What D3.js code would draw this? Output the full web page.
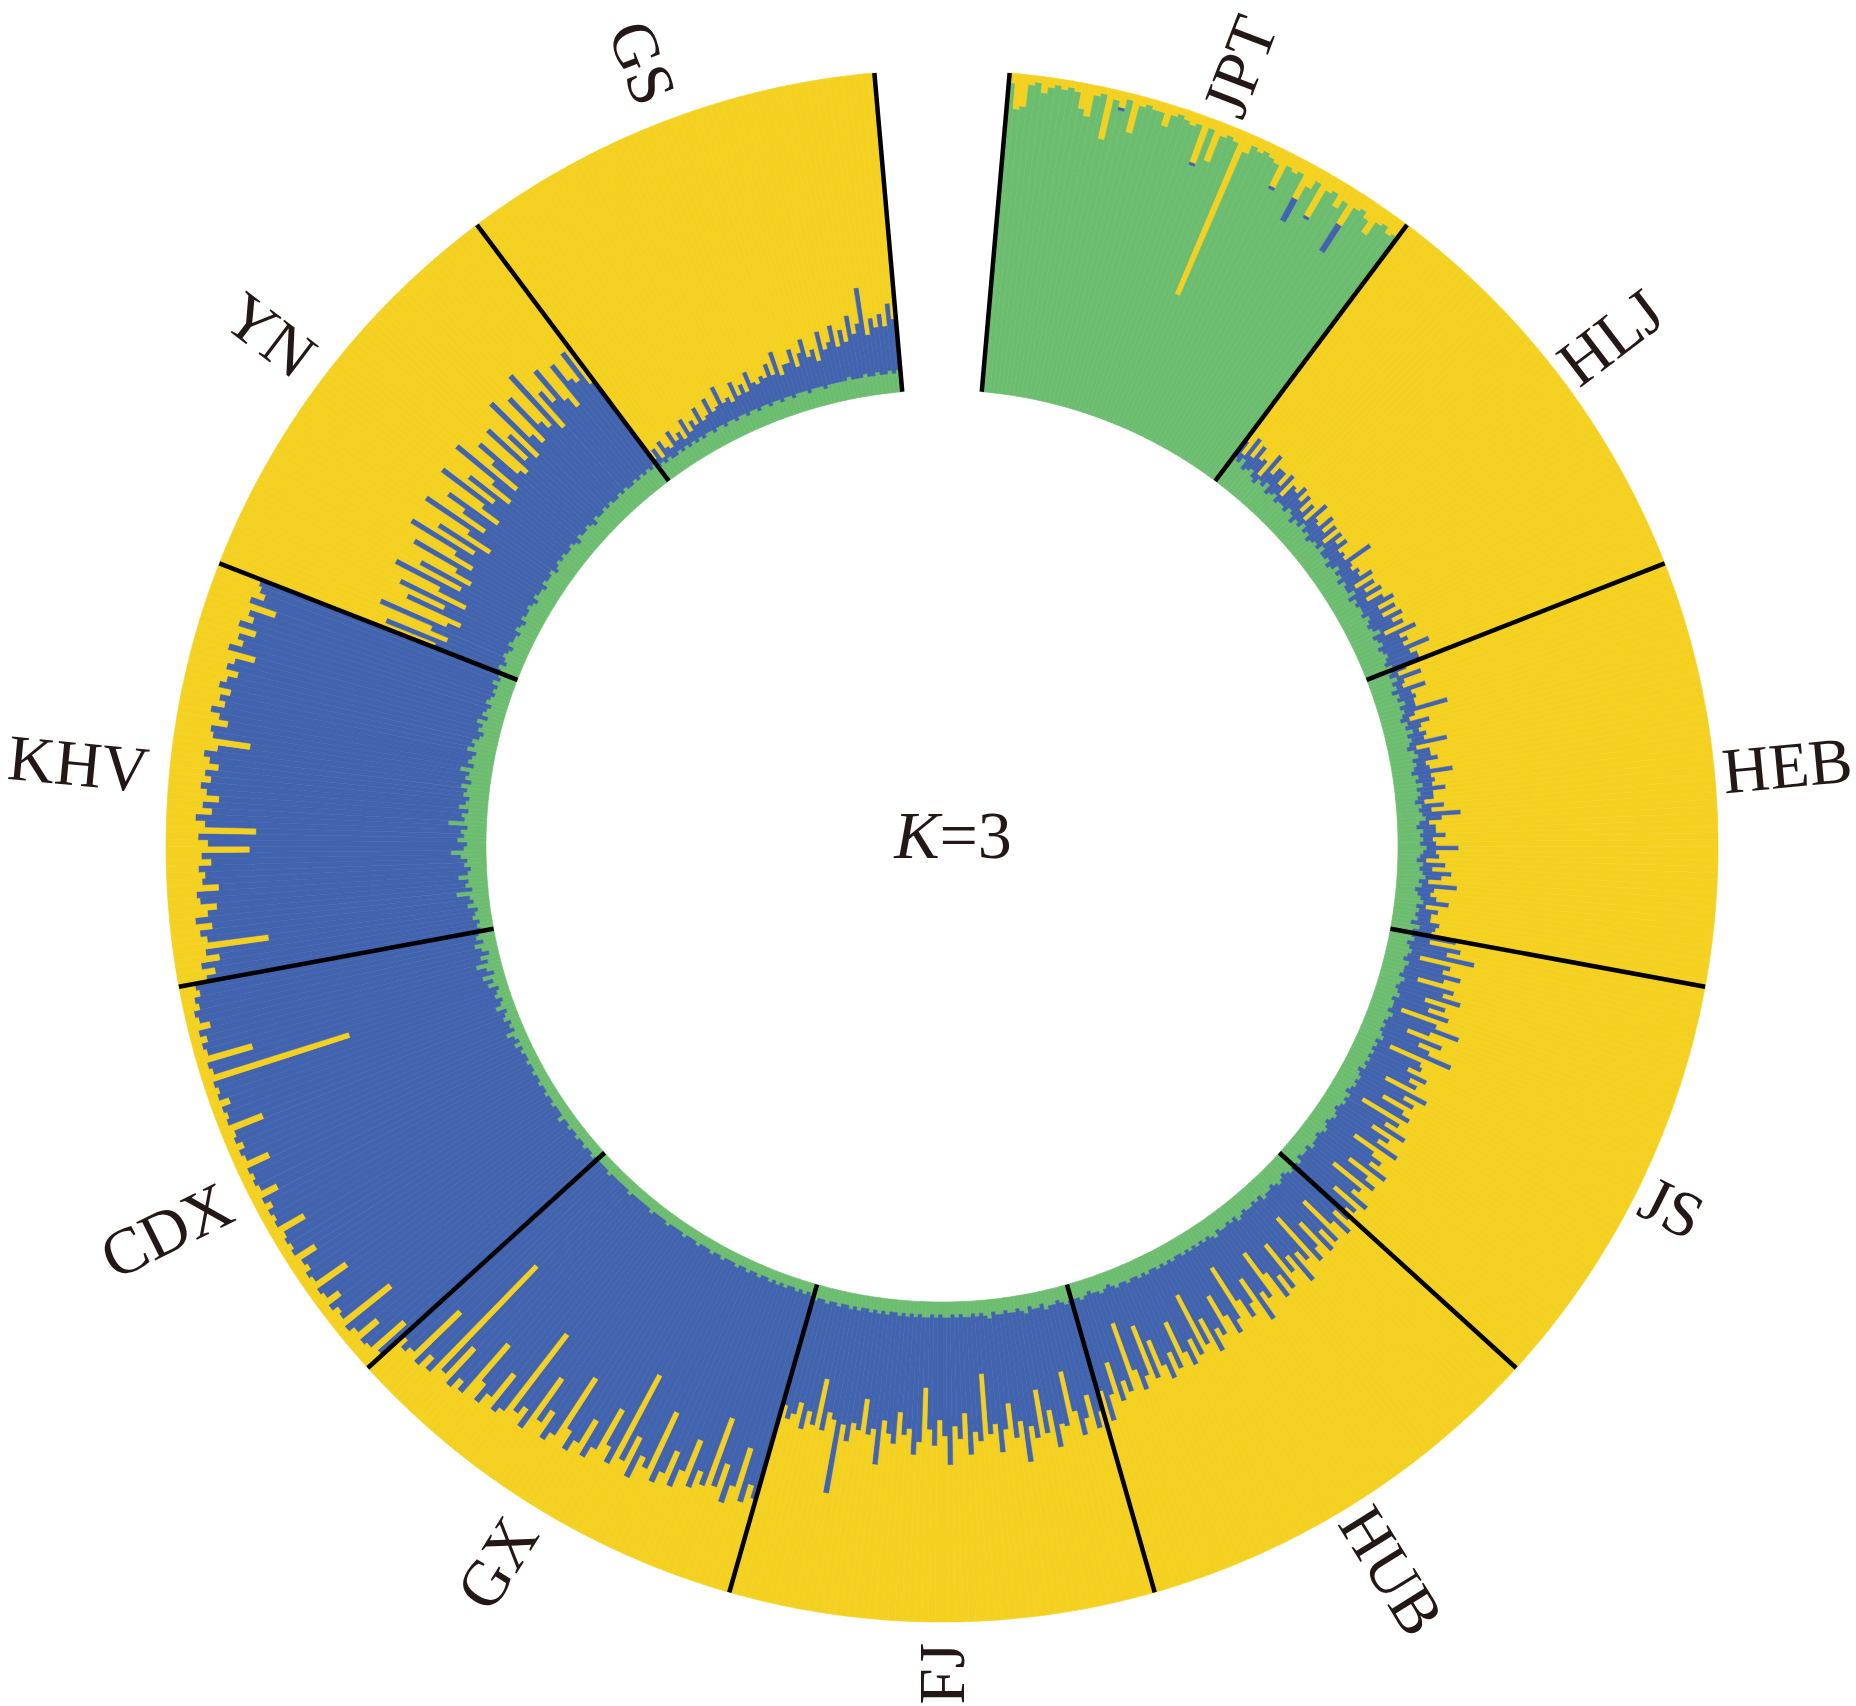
<!DOCTYPE html>
<html lang="en">
<head>
  <meta charset="UTF-8" />
  <title>Circular admixture plot, K=3</title>
  <script src="https://d3js.org/d3.v7.min.js"></script>
  <style>
    body { margin: 0; background: #fff; }
    .pop-label, .k-label {
      font-family: "Liberation Serif", "Times New Roman", serif;
      fill: #231815;
    }
    .pop-label { font-size: 65px; }
    .k-label { font-size: 68px; }
    .divider { stroke: #000; stroke-width: 4.5px; }
  </style>
</head>
<body>
<script>
  // populations, clockwise from the gap at 12 o'clock
  const populations = ["JPT", "HLJ", "HEB", "JS", "HUB", "FJ", "GX", "CDX", "KHV", "YN", "GS"];

  // ancestry shares per individual (%): green = inner cluster, blue = middle,
  // yellow = whatever is left (outer)
  const jptGreen = [97,89,90,97,98,95,97,98,97,98,97,92,90,97,98,84,
                    97,94,98,88,97,98,97,97,93,97,98,97,96,97,84,97,
                    87,96,97,96,45,94,97,96,97,96,95,87,96,95,96,80,
                    93,96,84,95,96,92,95,78,95,96,94,90,95,96,94,95];
  const jptBlue  = [0,0,0,0,0,0,0,0,0,0,0,0,0,0,0,0,
                    0,1,0,0,0,0,0,0,0,0,0,0,0,0,1,0,
                    0,0,0,0,0,0,0,0,0,0,0,1,0,0,0,8,
                    0,0,1,0,0,0,0,10,0,0,0,0,0,0,0,0];

  const hljGreen = [10,9,11,8,9,10,8,7,9,8,10,7,8,9,7,8,
                    8,7,9,8,6,8,7,9,7,8,6,7,8,7,9,7,
                    7,8,6,7,9,7,8,6,8,7,7,9,6,8,7,8,
                    8,7,9,8,7,8,10,7,8,9,7,8,9,8,7,9];
  const hljBlue  = [6,3,8,5,9,4,7,3,10,5,6,9,4,8,3,7,
                    6,10,4,8,5,7,3,9,6,4,11,5,8,3,7,6,
                    9,4,7,5,12,6,4,8,5,10,3,7,6,9,4,8,
                    11,6,9,5,12,7,8,4,13,6,10,7,14,8,11,9];

  const hebGreen = [8,7,9,7,8,6,8,7,9,7,8,7,6,8,7,9,
                    7,8,7,6,8,9,7,8,7,6,8,7,9,7,8,7,
                    6,8,7,8,9,7,6,8,7,8,7,9,8,7,6,8,
                    7,8,9,7,8,6,7,8,9,7,8,7,8,6,9,7];
  const hebBlue  = [5,3,8,4,2,11,4,6,3,5,14,4,3,7,5,2,
                    6,4,12,3,5,4,8,3,5,13,4,6,3,9,4,5,
                    3,7,4,12,5,3,6,4,8,3,5,10,4,6,3,7,
                    4,9,5,3,11,6,4,5,8,3,6,5,4,9,5,6];

  const jsGreen  = [7,8,6,7,8,7,6,8,7,7,6,8,7,6,7,8,
                    6,7,7,6,8,7,6,7,6,7,8,6,7,6,7,6,
                    7,6,7,5,6,7,6,7,6,5,7,6,7,6,5,6,
                    7,6,5,6,7,6,5,6,6,7,5,6,6,5,7,6];
  const jsBlue   = [14,5,17,12,20,4,15,11,18,13,6,16,14,21,9,15,
                    12,18,3,16,22,14,8,19,13,16,23,5,15,17,12,20,
                    14,18,7,24,16,19,10,17,21,6,18,15,22,12,20,16,
                    23,9,18,21,17,25,13,20,24,8,22,19,26,15,23,21];

  const hubGreen = [6,7,6,5,6,7,6,5,6,6,7,5,6,5,6,6,
                    5,6,7,5,6,5,6,6,5,7,6,5,6,5,6,5,
                    6,5,6,5,5,6,5,6,5,6,5,5,6,5,6,5,
                    5,6,5,5,6,5,4,5,6,5,5,4,5,6,5,5];
  const hubBlue  = [24,18,27,22,10,25,20,28,14,23,26,9,24,21,30,19,
                    25,12,27,23,29,20,10,26,24,31,16,25,28,22,8,27,
                    30,24,15,29,26,32,21,28,11,30,25,33,27,17,31,26,
                    34,28,20,32,13,30,35,27,10,33,29,36,22,31,40,30];

  const fjGreen  = [5,6,5,4,5,5,6,4,5,5,4,6,5,4,5,5,
                    4,5,5,4,6,5,4,5,4,5,5,4,5,4,5,5,
                    4,5,4,5,5,4,5,4,5,4,5,4,4,5,4,5,
                    4,5,4,4,5,4,5,4,4,5,4,4,5,4,4,5];
  const fjBlue   = [36,40,30,38,42,34,20,39,37,44,33,38,25,41,36,47,
                    35,39,28,37,42,34,38,18,40,36,43,31,38,35,46,37,
                    33,40,36,22,39,44,35,38,30,41,37,34,48,36,39,27,
                    38,35,42,37,58,36,33,40,24,38,35,41,32,37,39,34];

  const gxGreen  = [4,3,4,3,4,3,3,4,3,4,3,4,3,3,4,3,
                    3,4,3,3,4,3,3,3,4,3,3,4,3,3,3,4,
                    3,3,3,4,3,3,3,3,4,3,3,3,3,4,3,3,
                    3,3,3,3,4,3,3,3,3,3,3,4,3,3,3,3];
  const gxBlue   = [66,63,68,52,64,71,59,66,45,67,64,69,55,66,71,61,
                    69,72,50,70,66,75,62,71,41,74,69,56,72,76,64,72,
                    77,71,53,74,78,69,74,59,78,73,76,47,78,79,67,77,
                    81,75,61,82,78,83,69,81,37,84,80,84,64,83,85,82];

  const cdxGreen = [3,4,3,3,4,3,3,4,3,3,4,3,3,5,3,3,
                    3,4,3,3,4,3,3,4,3,3,4,3,3,4,3,3,
                    4,3,5,3,4,6,3,4,3,5,4,3,6,4,3,5,
                    4,3,6,4,7,3,5,8,4,6,3,5,7,4,6,5];
  const cdxBlue  = [91,78,92,93,84,92,94,74,93,92,93,89,93,92,82,93,
                    94,91,93,87,93,93,94,92,85,94,92,94,92,93,88,93,
                    93,93,92,86,92,91,92,93,93,81,93,93,91,90,94,91,
                    93,49,90,93,75,93,92,87,93,87,93,92,88,92,88,90];

  const khvGreen = [4,5,4,6,5,4,7,5,6,10,5,7,6,9,6,5,
                    7,6,8,11,7,6,9,7,8,6,12,7,8,6,9,7,
                    6,8,7,9,6,8,7,10,6,8,7,6,9,7,8,6,
                    5,7,6,8,5,7,6,5,7,6,5,6,5,7,5,6];
  const khvBlue  = [87,83,88,80,85,66,82,86,81,82,83,78,84,82,78,84,
                    81,84,78,78,67,81,81,65,80,85,74,82,76,82,81,80,
                    83,77,81,81,80,68,81,79,78,79,83,80,79,78,81,81,
                    79,81,80,72,84,78,81,77,81,78,81,72,82,76,80,80];

  const ynGreen  = [6,7,5,6,7,6,5,7,6,6,5,7,6,5,7,6,
                    6,7,6,5,7,6,6,5,7,6,6,7,5,6,7,6,
                    7,6,6,7,6,5,7,6,6,7,6,5,7,6,6,7,
                    6,7,6,6,7,6,7,6,6,7,6,7,6,7,6,7];
  const ynBlue   = [22,38,20,25,42,21,18,35,24,40,19,27,44,23,36,20,
                    26,41,22,30,45,24,38,21,28,46,25,33,42,23,29,47,
                    27,39,24,31,48,26,35,43,28,25,44,30,37,27,49,32,
                    29,45,34,31,50,28,40,36,47,33,30,44,38,35,46,32];

  const gsGreen  = [5,6,5,6,5,5,6,5,6,5,6,5,6,5,6,6,
                    5,6,6,5,6,6,5,6,6,5,6,6,5,6,6,5,
                    6,6,5,6,6,5,6,6,6,5,6,6,6,5,6,6,
                    6,6,6,7,6,6,6,7,6,6,7,6,6,7,6,7];
  const gsBlue   = [3,5,2,6,4,3,7,4,5,3,8,4,6,5,9,4,
                    6,10,5,7,12,6,8,5,11,7,9,6,13,8,7,10,
                    8,12,9,15,7,11,10,14,8,13,16,10,12,9,17,11,
                    13,18,11,15,12,20,14,16,28,13,17,15,19,14,22,16];

  const greenShares = [jptGreen, hljGreen, hebGreen, jsGreen, hubGreen, fjGreen,
                       gxGreen, cdxGreen, khvGreen, ynGreen, gsGreen];
  const blueShares  = [jptBlue, hljBlue, hebBlue, jsBlue, hubBlue, fjBlue,
                       gxBlue, cdxBlue, khvBlue, ynBlue, gsBlue];

  const clusterColors = { green: "#6DBD70", blue: "#4263AD", yellow: "#F4D121" };

  // layout
  const width = 1856, height = 1706;
  const cx = 942, cy = 846;
  const innerR = 456, outerR = 776;
  const gap = 10 * Math.PI / 180;   // empty wedge at the top
  const padRight = 8, padLeft = 21;

  // one record per individual
  const samples = [];
  populations.forEach((pop, p) => {
    greenShares[p].forEach((g, i) => {
      samples.push({ id: pop + "_" + i, pop, green: g, blue: blueShares[p][i] });
    });
  });

  const angle = d3.scaleBand()
    .domain(samples.map(d => d.id))
    .range([gap / 2, 2 * Math.PI - gap / 2])
    .padding(0);

  const radius = d3.scaleLinear().domain([0, 100]).range([innerR, outerR]);

  const svg = d3.select("body").append("svg")
      .attr("width", width)
      .attr("height", height);

  const g = svg.append("g").attr("transform", `translate(${cx},${cy})`);

  // stacked pieces per individual: inner green, blue, outer yellow
  const pieces = samples.flatMap(d => [
    { id: d.id, k: "green",  from: 0,                to: d.green },
    { id: d.id, k: "blue",   from: d.green,          to: d.green + d.blue },
    { id: d.id, k: "yellow", from: d.green + d.blue, to: 100 }
  ]).filter(s => s.to > s.from);

  const arc = d3.arc()
    .innerRadius(s => radius(s.from))
    .outerRadius(s => radius(s.to))
    .startAngle(s => angle(s.id))
    .endAngle(s => angle(s.id) + angle.bandwidth());

  g.selectAll(".piece")
    .data(pieces)
    .enter()
    .append("path")
      .attr("class", "piece")
      .attr("d", arc)
      .attr("fill", s => clusterColors[s.k])
      .attr("stroke", s => clusterColors[s.k])
      .attr("stroke-width", 0.6);

  // population extents
  const popRanges = populations.map(pop => {
    const ids = samples.filter(d => d.pop === pop).map(d => d.id);
    const start = angle(ids[0]);
    const end = angle(ids[ids.length - 1]) + angle.bandwidth();
    return { pop, start, end, mid: (start + end) / 2 };
  });

  // black dividers between populations (and at the gap)
  const dividerAngles = popRanges.map(d => d.start).concat([popRanges[popRanges.length - 1].end]);

  g.selectAll(".divider")
    .data(dividerAngles)
    .enter()
    .append("line")
      .attr("class", "divider")
      .attr("x1", a => d3.pointRadial(a, innerR)[0])
      .attr("y1", a => d3.pointRadial(a, innerR)[1])
      .attr("x2", a => d3.pointRadial(a, outerR)[0])
      .attr("y2", a => d3.pointRadial(a, outerR)[1]);

  // population names, radial; left half flipped so it stays readable
  const rightSide = d => d.mid < Math.PI * 0.95;

  g.selectAll(".pop-label")
    .data(popRanges)
    .enter()
    .append("text")
      .attr("class", "pop-label")
      .attr("dominant-baseline", "central")
      .attr("text-anchor", d => rightSide(d) ? "start" : "end")
      .attr("transform", d => {
        const [x, y] = d3.pointRadial(d.mid, outerR + (rightSide(d) ? padRight : padLeft));
        const deg = d.mid * 180 / Math.PI;
        const rot = rightSide(d) ? deg - 90 : deg + 90;
        return `translate(${x},${y}) rotate(${rot})`;
      })
      .text(d => d.pop);

  // centre label
  const k = g.append("text")
      .attr("class", "k-label")
      .attr("x", 11)
      .attr("y", 12)
      .attr("text-anchor", "middle");
  k.append("tspan").attr("font-style", "italic").text("K");
  k.append("tspan").text("=3");
</script>
</body>
</html>
